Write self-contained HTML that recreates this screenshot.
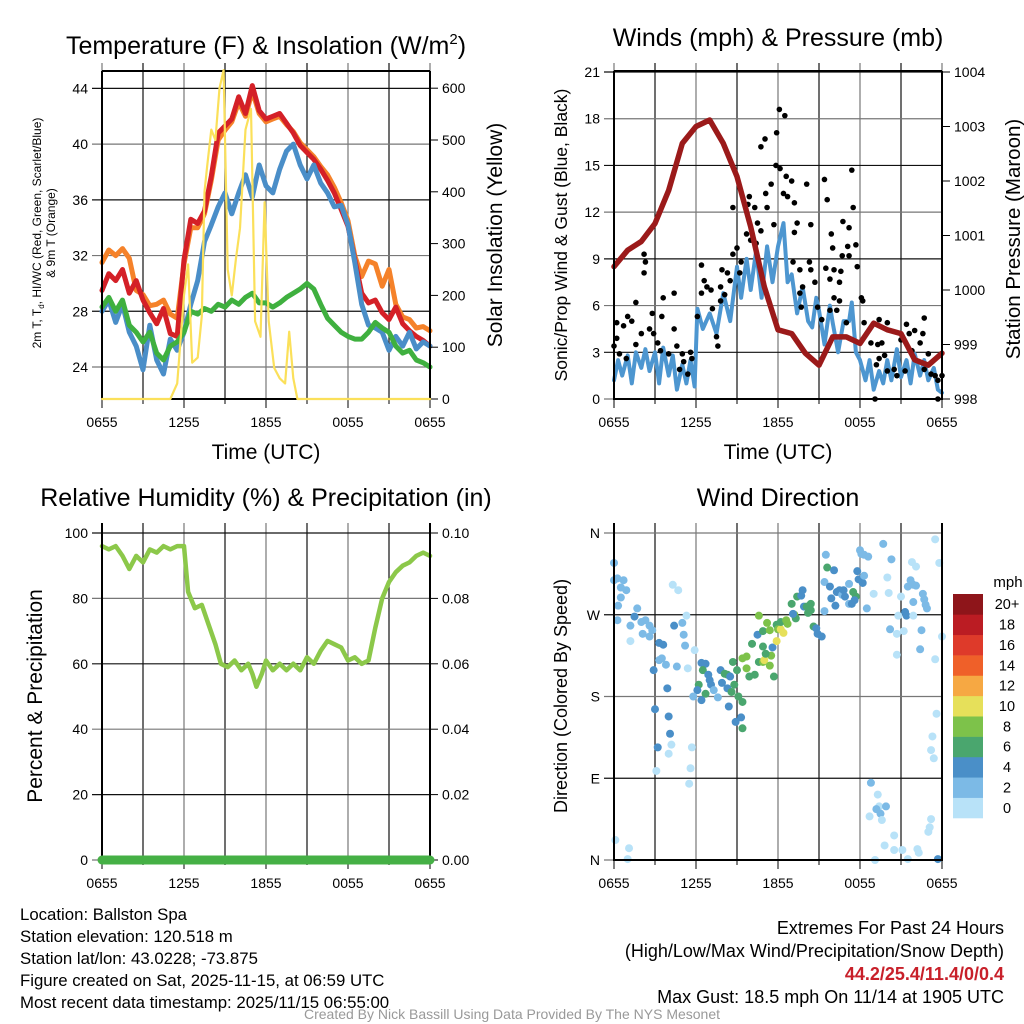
<!DOCTYPE html>
<html><head><meta charset="utf-8"><style>
html,body{margin:0;padding:0;background:#fff;}
svg{display:block;font-family:"Liberation Sans",sans-serif;}
</style></head><body>
<svg id="c" width="1024" height="1024" viewBox="0 0 1024 1024" xmlns="http://www.w3.org/2000/svg">
<rect width="1024" height="1024" fill="#fff"/>
<g id="grid"></g>
<g id="marks"></g>
<g id="axes"></g>
<g id="top"></g>
<g id="texts">
<text x="266" y="54" font-size="25" text-anchor="middle">Temperature (F) &amp; Insolation (W/m<tspan font-size="15" dy="-10">2</tspan><tspan dy="10">)</tspan></text>
<text x="778" y="46" font-size="25" text-anchor="middle">Winds (mph) &amp; Pressure (mb)</text>
<text x="266" y="506" font-size="25" text-anchor="middle">Relative Humidity (%) &amp; Precipitation (in)</text>
<text x="778" y="506" font-size="25" text-anchor="middle">Wind Direction</text>
<text x="266" y="459" font-size="21" text-anchor="middle">Time (UTC)</text>
<text x="778" y="459" font-size="21" text-anchor="middle">Time (UTC)</text>
<text transform="translate(41,233) rotate(-90)" font-size="12" text-anchor="middle">2m T, T<tspan font-size="8" dy="3">d</tspan><tspan dy="-3">, HI/WC (Red, Green, Scarlet/Blue)</tspan></text>
<text transform="translate(55,233) rotate(-90)" font-size="12" text-anchor="middle">&amp; 9m T (Orange)</text>
<text transform="translate(502,235) rotate(-90)" font-size="21" text-anchor="middle">Solar Insolation (Yellow)</text>
<text transform="translate(567,235) rotate(-90)" font-size="17.5" text-anchor="middle">Sonic/Prop Wind &amp; Gust (Blue, Black)</text>
<text transform="translate(1020,239) rotate(-90)" font-size="20.5" text-anchor="middle">Station Pressure (Maroon)</text>
<text transform="translate(42,696) rotate(-90)" font-size="21" text-anchor="middle">Percent &amp; Precipitation</text>
<text transform="translate(567,696) rotate(-90)" font-size="18" text-anchor="middle">Direction (Colored By Speed)</text>
<text x="1008" y="587" font-size="15" text-anchor="middle">mph</text>
<g font-size="16.8">
<text x="20" y="920">Location: Ballston Spa</text>
<text x="20" y="942">Station elevation: 120.518 m</text>
<text x="20" y="964">Station lat/lon: 43.0228; -73.875</text>
<text x="20" y="986">Figure created on Sat, 2025-11-15, at 06:59 UTC</text>
<text x="20" y="1008">Most recent data timestamp: 2025/11/15 06:55:00</text>
</g>
<g font-size="18" text-anchor="end">
<text x="1004" y="934">Extremes For Past 24 Hours</text>
<text x="1004" y="957">(High/Low/Max Wind/Precipitation/Snow Depth)</text>
<text x="1004" y="980" fill="#c8202a" font-weight="bold">44.2/25.4/11.4/0/0.4</text>
<text x="1004" y="1003">Max Gust: 18.5 mph On 11/14 at 1905 UTC</text>
</g>
<text x="512" y="1019" font-size="14" fill="#999" text-anchor="middle">Created By Nick Bassill Using Data Provided By The NYS Mesonet</text>
</g>
</svg>
<script>
const timeLabels=["0655","1255","1855","0055","0655"];
const tempTicks=[24,28,32,36,40,44];
const solarTicks=[0,100,200,300,400,500,600];
const windTicks=[0,3,6,9,12,15,18,21];
const presTicks=[998,999,1000,1001,1002,1003,1004];
const rhTicks=[0,20,40,60,80,100];
const precipTicks=["0.00","0.02","0.04","0.06","0.08","0.10"];
const dirTicks=["N","E","S","W","N"];
const speedLabels=["0","2","4","6","8","10","12","14","16","18","20+"];
const speedColors=["#b8e2f8","#7cbae6","#4a8fc8","#4aa66e","#7dc24a","#e6e05a","#f6a843","#ef6029","#de3a2a","#bb1c23","#8e151a"];

const tempHours=[0,0.5,1,1.5,2,2.5,3,3.5,4,4.5,5,5.5,6,6.5,7,7.5,8,8.5,9,9.5,10,10.5,11,11.5,12,12.5,13,13.5,14,14.5,15,15.5,16,16.5,17,17.5,18,18.5,19,19.5,20,20.5,21,21.5,22,22.5,23,23.5,24];
const temp2m=[29.5,30.7,30.2,31,29.3,30.2,28.8,27.9,27.1,28.2,26.4,26.2,31.7,34.6,34.3,35.2,37.7,40.8,41.3,41.8,43.4,42.2,44.2,42.4,41.8,42,42.2,41.5,40.8,39.9,39.4,38.9,38.2,37.4,36.5,35.3,34.1,31.7,29.3,28.6,28.8,27.9,27.4,28.3,27.1,26.6,26.2,25.9,25.5];
const temp9m=[31.5,32.4,32,32.5,31.8,29.5,29.2,28.4,28.5,28.8,27.8,27.5,31.4,34,34,35,37.4,40.3,41,41.6,43,42,43.8,42.2,41.6,41.8,42,41.4,40.9,40.1,39.6,39.1,38.4,37.8,36.9,35.8,34.5,32,30.5,31.6,31.4,29.8,31,28.5,27.6,27.4,26.8,26.9,26.6];
const dewpoint=[28,28.8,27.2,28.5,26.5,25.5,23.8,27,24.5,23.5,26,25.2,26.5,28.5,30.2,33,34.2,35.5,36.5,35,36.5,37.8,36.2,38.5,37,36.5,38.2,39.5,40,38.5,37.5,38.5,37.2,36.5,35.5,35.6,34.2,31.5,28.5,27,26.8,26.5,25.2,26.2,25.5,26.5,25.3,25.8,25.5];
const heatIndex=[28.3,29,28,28.8,27,26.5,25.8,26.5,25,24.5,25.5,25.8,26.5,28,27.8,28.2,28,28.5,28.3,28.8,28.5,29,29.3,28.6,28.6,28.3,28.6,29,29.3,29.6,30,29.6,28.5,27.5,27,26.5,26.2,26,26,26.5,27.2,26.8,26.5,25.5,25,25.2,24.5,24.3,24];
const solarHours=[0,5,5.5,6,6.3,6.6,7,7.3,7.5,7.7,8,8.3,8.6,8.9,9.2,9.5,9.8,10.1,10.5,10.9,11.2,11.6,11.9,12.2,12.6,13,13.4,13.7,14,14.3,24];
const solarVals=[0,0,30,200,260,70,80,160,400,450,520,500,600,635,250,200,270,330,520,560,150,120,380,150,60,40,30,130,40,0,0];

const windHours=[0,0.3,0.6,1,1.3,1.6,2,2.3,2.6,3,3.3,3.6,4,4.3,4.6,5,5.3,5.6,5.9,6.1,6.5,7,7.5,8,8.5,9,9.3,9.7,10,10.4,10.8,11.2,11.6,12,12.4,12.7,13,13.4,13.8,14.2,14.5,14.8,15,15.4,15.8,16,16.4,16.8,17.2,17.4,17.7,18,18.4,18.7,19,19.4,19.7,20,20.3,20.7,21,21.4,21.7,22,22.4,22.7,23,23.4,23.7,24];
const windSpeed=[1.2,2.5,1.5,2.8,1,3,2,3.2,1.8,3,1,3.3,1.5,2.8,0.6,2.2,1,2.5,0.8,5.8,4.5,5.5,4.2,6.8,5,8.5,6.5,9,7,9.5,6.5,9.8,7.5,9.8,11.3,7.5,8,5.5,7.2,5,4.6,6.5,5.7,3.5,6,4.9,3,5,5,6.2,3,2.5,1.2,2.5,0.6,1.8,1,2.5,1.2,3.2,1.4,2.5,1,2.9,1.5,2.5,1.2,2,0.6,0.4];
const gustHours=[12.1,12.5,11.9,11.05,10.75,11.85,12.15,12.6,13,17.4,15.4,14.1,11.5,11.1,12.4,12.7,13.2,9.9,9.8,8.7,10.3,11.2,15.6,17.5,10.5,11.7,13.4,14.4,16.75,17.2,10.75,13.2,15.9,9.7,10,10.4,16,17.1,17.7,9,8.7,2.2,2.3,2.2,6.4,9.3,13.1,14.3,13.6,14.4,16.7,17.2,17.8,15.5,16.1,16.6,7.9,8.3,9.2,6.6,6.8,7.1,6.4,7.8,8.1,8.5,4.4,3.6,1.6,15.8,16.5,14.7,13.8,13.6,16.1,16.5,18.1,18.2,7.8,13.7,14.9,7.2,6.1,16.3,15.8,22.7,2.8,3.5,1,1.3,0.7,0.2,2.6,2,2.9,4.4,15.2,18.3,19.4,20,21.4,22,21.6,22.6,17,18.8,19.3,19.6,21,22.4,23,21.8,1.6,0,0.2,0.4,0.9,3.2,3.4,4,4.6,5,5.6,5.1,5.7,5.4,4.8,7.5,7.6,19.8,19.4,19.2,20,20.5,20.7,21.3,22.7,23.2,23.5,24,23.7,19.1,23.7];
const gustSpeed=[18.6,18.2,17.1,16.7,16.2,15,14.8,14.3,14,14.7,14.1,13.8,13.8,13.2,13.2,13,12.6,13,12.5,12.3,12.3,12.3,12.8,12.3,11.3,11.2,11.3,11.2,11.4,11,10.8,10.7,10.6,10.6,10.2,10,9.7,9.8,9.9,9.7,9.3,9.3,8.8,8.1,8.6,8.8,8.8,8.8,8.3,8.3,9.2,9.2,8.5,8.4,8.3,8.2,8.3,8.1,8.1,7.6,7.2,7,6.8,7.2,6.7,7.6,6.8,6.5,6.2,7.7,7.5,7.5,7.2,6.8,6.5,6.3,6.5,6.3,6.3,5.9,5.9,5.8,5.3,5.7,5.7,5.2,5.5,5.3,5.3,5,4.7,4.9,4.5,4.2,4.2,4.5,5.1,4.9,5.1,4.9,4.8,4.4,4.2,4.2,4.9,3.6,3.5,3.6,3.8,3.6,2.9,3.1,3.5,3.4,3.9,2.9,2.6,3.6,3.1,2.9,3.4,2.9,3,2.4,2.6,1.6,1.9,4,3.4,2.8,2.6,2.2,1.8,1.9,1.5,1.8,1.9,1.6,1.5,1.5,1.2,0,0];
const presHours=[0,1,2,3,4,5,6,7,8,9,10,11,12,13,14,15,16,17,18,19,20,21,22,23,24];
const pressure=[1000.43,1000.73,1000.89,1001.22,1001.83,1002.69,1003.0,1003.12,1002.69,1002.08,1001.16,1000.06,999.27,999.2,998.84,998.62,999.14,999.14,999.02,999.39,999.27,999.2,998.72,998.62,998.84];

const rhHours=[0,0.5,1,1.5,2,2.5,3,3.5,4,4.5,5,5.5,6,6.3,6.8,7.3,7.8,8.3,8.7,9.2,9.7,10.2,10.7,11,11.3,11.7,12,12.5,13,13.5,14,14.5,15,15.5,16,16.5,17,17.5,18,18.5,19,19.5,20,20.5,21,21.5,22,22.5,23,23.5,24];
const rhVals=[96,95,96,93,89,93,91,95,94,96,95,96,96,82,77,78,72,66,60,59,61,58,60,57,53,57,61,58,60,58,60,58,62,60,64,67,66,65,61,62,60,61,71,80,85,88,90,91,93,94,93];
const precipHours=[0,24];
const precipVals=[0,0];

const dirHours=[0,0,0.25,0.7,0.5,0.9,0.5,0.3,0.25,1.5,1.2,1.7,2,2.3,2.6,2.1,2.6,2.8,1.2,4.3,4.7,4.4,5,5.3,5.1,5.2,5.9,3.3,3.6,3.5,3.3,3.8,2.9,4.6,5.4,3.9,3,4,4.1,4.2,4,3.2,3.1,5.7,5.6,5.5,6.4,6.7,6.5,6.9,7,7.1,6.2,6.1,6.7,6.4,5.8,7.3,7.6,7.8,8.1,8.3,8.5,7.9,8.3,8.6,8.8,9,8.7,9.1,9.4,8.4,9.3,8.9,9.4,9.4,9.7,9.7,9.9,10.3,10.6,10.9,11,11.4,11.5,11.1,11.7,10.9,11.6,10.1,10.5,10.9,11.2,11.4,11.9,12,12.2,12.4,11.9,10.6,12.2,12.6,12.7,13,13.2,13.3,13.4,13.7,13.8,13.9,14.1,14.2,14.4,14.4,13.1,14.6,14.8,14.9,15.2,15.4,15.5,15.6,16.1,15.4,15.8,15.9,16.2,16.3,16.5,16.7,16.9,16.8,17.2,17.2,17.4,17.5,17.7,17.6,17.8,17.9,18.2,18.3,18.1,18.3,18.6,18,18.5,19.7,20.3,20,19,20.1,21.8,22.1,21.7,21.5,21.9,22.1,22.6,22.7,21.9,21,21.3,21.4,20.8,21.9,22.9,22.8,20.2,20.7,21.2,22.5,22.4,20.7,23.5,23.8,24,23.5,23.6,23.3,23.2,23.4,18.8,19.3,19.4,19.9,19.2,19.5,19.6,18.7,20.5,19.8,20.5,21.1,21.5,22.2,22.3,23.2,23.1,23,19.1,23.7,0.1,1.1,1];
const dirVals=[327,308,310,308,300,297,289,280,264,268,258,277,262,264,258,249,246,253,241,303,297,258,261,269,248,236,231,239,237,222,220,215,209,213,211,189,166,158,139,127,117,124,98,124,101,84,217,216,209,204,198,193,193,187,183,176,180,187,179,209,205,204,202,195,189,185,193,209,218,180,174,169,157,152,145,222,224,211,202,204,218,218,220,214,225,227,202,235,234,238,248,252,261,253,259,254,254,250,241,269,262,264,260,282,270,266,290,291,297,279,279,272,275,282,271,257,255,249,246,274,336,322,319,306,301,288,280,295,297,292,290,297,304,282,282,295,290,286,318,309,305,313,337,336,334,341,277,348,331,311,293,294,328,323,308,301,303,302,293,287,284,290,273,269,269,269,277,281,254,249,252,253,232,226,353,327,246,221,161,136,121,112,85,72,59,59,56,51,44,48,27,16,11,11,1,12,8,45,36,31,0,1,22,13,1];
const dirClass=[1,1,1,1,1,1,1,1,1,2,1,1,1,1,1,1,1,1,0,0,0,2,1,0,1,1,0,2,2,1,1,1,2,1,0,2,2,2,2,0,0,2,0,0,0,0,2,2,3,2,2,2,3,2,3,2,1,1,1,2,3,3,2,2,2,3,3,3,3,3,3,2,2,2,3,4,4,4,3,3,3,4,5,4,4,3,3,3,2,3,2,3,4,4,3,4,5,5,5,4,3,4,4,3,4,3,3,2,2,2,3,3,3,3,2,3,2,2,2,1,1,3,2,1,2,2,2,2,2,1,2,2,1,1,2,3,3,2,2,2,2,1,1,1,1,1,1,1,1,0,0,0,0,0,1,1,1,1,1,1,1,0,2,2,0,0,1,1,1,0,0,1,1,0,0,0,0,0,0,0,0,0,1,0,0,1,1,1,0,0,0,0,0,0,0,0,0,0,0,0,0,2,0,0];

const NS='http://www.w3.org/2000/svg';
function mk(tag,parent,attrs){const e=document.createElementNS(NS,tag);for(const k in attrs)e.setAttribute(k,attrs[k]);parent.appendChild(e);return e;}
const G=document.getElementById('grid'),M=document.getElementById('marks'),A=document.getElementById('axes'),T=document.getElementById('top');

const P={
 temp:{x0:102,x1:430,y0:71,y1:399},
 wind:{x0:614,x1:942,y0:71,y1:399},
 rh:{x0:102,x1:430,y0:523,y1:860},
 dir:{x0:614,x1:942,y0:523,y1:860}
};
function xs(p){return h=>p.x0+h*(p.x1-p.x0)/24;}
const xT=xs(P.temp),xW=xs(P.wind),xR=xs(P.rh),xD=xs(P.dir);
const yT=v=>367-(v-24)*13.93;
const yS=v=>399-v*0.518;
const yW=v=>399-v*15.57;
const yP=v=>399-(v-998)*54.5;
const yR=v=>860-v*3.27;
const yPr=v=>860-v*3270;
const yD=v=>860-v*(327/360);

function path(xf,yf,hs,vs){return hs.map((h,i)=>(i?'L':'M')+xf(h).toFixed(1)+','+yf(vs[i]).toFixed(1)).join('');}

function frame(p,key,leftVals,leftY,leftLabels,rightVals,rightY,rightLabels,drawTop){
 for(let k=0;k<=8;k++){
  const x=p.x0+k*(p.x1-p.x0)/8;
  const l=mk('line',G,{x1:x,x2:x,y1:p.y0-(drawTop?8:0),y2:p.y1,stroke:k%2?'#111':'#777','stroke-width':1.2});
  
  
  const t=mk('line',A,{x1:x,x2:x,y1:p.y1,y2:p.y1+(k%2?5:9),stroke:'#000','stroke-width':1});
  
  
 }
 timeLabels.forEach((s,i)=>{
  const tx=mk('text',A,{x:p.x0+i*(p.x1-p.x0)/4,y:p.y1+28,'font-size':14,'text-anchor':'middle'});
  tx.textContent=s;
  
  
 });
 leftVals.forEach((v,i)=>{
  const y=leftY(v);
  const l=mk('line',G,{x1:p.x0-10,x2:p.x1,y1:y,y2:y,stroke:i%2?'#111':'#777','stroke-width':1.2});
  
  
  const tx=mk('text',A,{x:p.x0-14,y:y+5,'font-size':14,'text-anchor':'end'});
  tx.textContent=leftLabels?leftLabels[i]:v;
  
  
 });
 if(rightVals){rightVals.forEach((v,i)=>{
  const y=rightY(v);
  const t=mk('line',A,{x1:p.x1,x2:p.x1+8,y1:y,y2:y,stroke:'#000','stroke-width':1});
  
  
  const tx=mk('text',A,{x:p.x1+12,y:y+5,'font-size':14});
  tx.textContent=rightLabels?rightLabels[i]:v;
  
  
 });}
 const b=mk('path',A,{d:(drawTop?`M${p.x0},${p.y0}H${p.x1}`:'')+`M${p.x0},${p.y0}V${p.y1}H${p.x1}V${p.y0}`,fill:'none',stroke:'#000','stroke-width':2});
 
 
}

frame(P.temp,'temp',tempTicks,yT,null,solarTicks,yS,null,true);
frame(P.wind,'wind',windTicks,yW,null,presTicks,yP,null,true);
frame(P.rh,'rh',rhTicks,yR,null,[0,0.02,0.04,0.06,0.08,0.1],yPr,precipTicks,false);
frame(P.dir,'dir',[0,90,180,270,360],yD,dirTicks,null,null,null,false);

function line(g,d,color,w,name){
 const e=mk('path',g,{d:d,fill:'none',stroke:color,'stroke-width':w,'stroke-linejoin':'round','stroke-linecap':'round'});
 
 
}
line(M,path(xT,yT,tempHours,temp9m),'#f5822a',5,'temp-9m-line');
line(M,path(xT,yT,tempHours,temp2m),'#d42027',5,'temp-2m-line');
line(M,path(xT,yT,tempHours,dewpoint),'#4a8ec8',5,'dewpoint-line');
line(M,path(xT,yT,tempHours,heatIndex),'#3fb03f',5,'heat-index-line');
line(T,path(xT,yS,solarHours,solarVals),'#fbe05a',2.2,'solar-insolation-line');
line(M,path(xW,yW,windHours,windSpeed),'#4d96d0',4,'wind-speed-line');
gustHours.forEach((h,i)=>{
 const c=mk('circle',M,{cx:xW(h),cy:yW(gustSpeed[i]),r:2.8,fill:'#000'});
 
 
});
line(M,path(xW,yP,presHours,pressure),'#9b1a1a',5.5,'pressure-line');
line(M,path(xR,yR,rhHours,rhVals),'#8cc84a',4.5,'humidity-line');
line(T,path(xR,yPr,precipHours,precipVals),'#45b045',9,'precipitation-line');
dirHours.forEach((h,i)=>{
 const cls=dirClass[i]===undefined?0:dirClass[i];
 const c=mk('circle',M,{cx:xD(h),cy:yD(dirVals[i]),r:4,fill:speedColors[cls]});
 
 
});
speedColors.forEach((col,i)=>{
 const bh=224/11, y=818-(i+1)*bh;
 const r=mk('rect',A,{x:953,y:y,width:30,height:bh+0.3,fill:col});
 
 
 const t=mk('text',A,{x:1007,y:y+bh/2+5,'font-size':14.5,'text-anchor':'middle'});
 t.textContent=speedLabels[i];
 
 
});
</script>
</body></html>
